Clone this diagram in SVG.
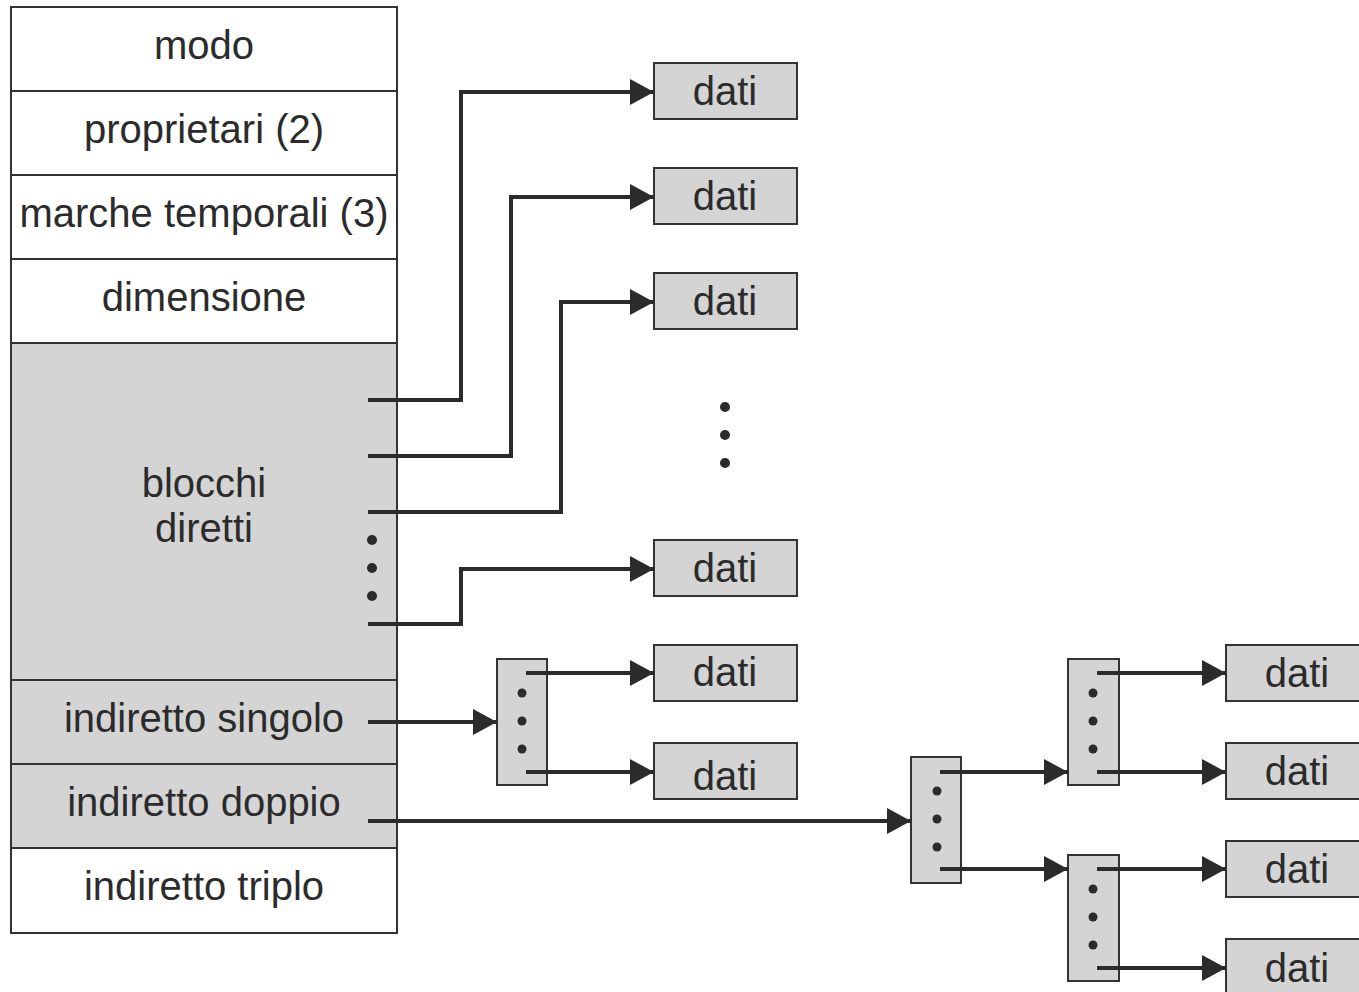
<svg xmlns="http://www.w3.org/2000/svg" width="1359" height="992" viewBox="0 0 1359 992">
  <style>
    .cell { stroke: #333; stroke-width: 2; }
    .white { fill: #ffffff; }
    .grey { fill: #d4d4d4; }
    .lbl { font-family: "Liberation Sans", Arial, Helvetica, sans-serif; font-size: 40px; fill: #2b2b2b; text-anchor: middle; }
    .blk { fill: #d4d4d4; stroke: #333; stroke-width: 2; }
    .dot { fill: #2b2b2b; }
    .arrow { fill: none; stroke: #2b2b2b; stroke-width: 4; marker-end: url(#ah); }
  </style>
  <defs>
    <marker id="ah" markerUnits="userSpaceOnUse" markerWidth="24" markerHeight="26" refX="24" refY="13" orient="auto">
      <path d="M0,0 L24,13 L0,26 z" fill="#2b2b2b"/>
    </marker>
  </defs>
  <rect width="1359" height="992" fill="#ffffff"/>

  <!-- inode table -->
  <g id="inode">
    <g id="modo"><rect class="cell white" x="11" y="7" width="386" height="84"/><text class="lbl" x="204" y="59">modo</text></g>
    <g id="proprietari"><rect class="cell white" x="11" y="91" width="386" height="84"/><text class="lbl" x="204" y="143">proprietari (2)</text></g>
    <g id="marche"><rect class="cell white" x="11" y="175" width="386" height="84"/><text class="lbl" x="204" y="227">marche temporali (3)</text></g>
    <g id="dimensione"><rect class="cell white" x="11" y="259" width="386" height="84"/><text class="lbl" x="204" y="311">dimensione</text></g>
    <g id="blocchi-diretti">
      <rect class="cell grey" x="11" y="343" width="386" height="337"/>
      <text class="lbl" x="204" y="497">blocchi</text>
      <text class="lbl" x="204" y="542">diretti</text>
      <circle class="dot" cx="372" cy="540" r="5"/>
      <circle class="dot" cx="372" cy="568" r="5"/>
      <circle class="dot" cx="372" cy="596" r="5"/>
    </g>
    <g id="indiretto-singolo"><rect class="cell grey" x="11" y="680" width="386" height="84"/><text class="lbl" x="204" y="732">indiretto singolo</text></g>
    <g id="indiretto-doppio"><rect class="cell grey" x="11" y="764" width="386" height="84"/><text class="lbl" x="204" y="816">indiretto doppio</text></g>
    <g id="indiretto-triplo"><rect class="cell white" x="11" y="848" width="386" height="85"/><text class="lbl" x="204" y="900">indiretto triplo</text></g>
  </g>

  <!-- data blocks, direct -->
  <g id="dati-1"><rect class="blk" x="654" y="63" width="143" height="56"/><text class="lbl" x="725" y="105">dati</text></g>
  <g id="dati-2"><rect class="blk" x="654" y="168" width="143" height="56"/><text class="lbl" x="725" y="210">dati</text></g>
  <g id="dati-3"><rect class="blk" x="654" y="273" width="143" height="56"/><text class="lbl" x="725" y="315">dati</text></g>
  <g id="dati-gap">
    <circle class="dot" cx="725" cy="407" r="5"/>
    <circle class="dot" cx="725" cy="435" r="5"/>
    <circle class="dot" cx="725" cy="463" r="5"/>
  </g>
  <g id="dati-4"><rect class="blk" x="654" y="540" width="143" height="56"/><text class="lbl" x="725" y="582">dati</text></g>

  <!-- single indirect -->
  <g id="ind-s">
    <rect class="blk" x="497" y="659" width="50" height="126"/>
    <circle class="dot" cx="522" cy="693" r="4.5"/>
    <circle class="dot" cx="522" cy="721" r="4.5"/>
    <circle class="dot" cx="522" cy="749" r="4.5"/>
  </g>
  <g id="dati-5"><rect class="blk" x="654" y="645" width="143" height="56"/><text class="lbl" x="725" y="686">dati</text></g>
  <g id="dati-6"><rect class="blk" x="654" y="743" width="143" height="56"/><text class="lbl" x="725" y="790">dati</text></g>

  <!-- double indirect -->
  <g id="ind-d">
    <rect class="blk" x="911" y="757" width="50" height="126"/>
    <circle class="dot" cx="937" cy="791" r="4.5"/>
    <circle class="dot" cx="937" cy="819" r="4.5"/>
    <circle class="dot" cx="937" cy="847" r="4.5"/>
  </g>
  <g id="ind-d-a">
    <rect class="blk" x="1068" y="659" width="51" height="126"/>
    <circle class="dot" cx="1093" cy="693" r="4.5"/>
    <circle class="dot" cx="1093" cy="721" r="4.5"/>
    <circle class="dot" cx="1093" cy="749" r="4.5"/>
  </g>
  <g id="ind-d-b">
    <rect class="blk" x="1068" y="855" width="51" height="126"/>
    <circle class="dot" cx="1093" cy="889" r="4.5"/>
    <circle class="dot" cx="1093" cy="917" r="4.5"/>
    <circle class="dot" cx="1093" cy="945" r="4.5"/>
  </g>
  <g id="dati-7"><rect class="blk" x="1226" y="645" width="143" height="56"/><text class="lbl" x="1297" y="687">dati</text></g>
  <g id="dati-8"><rect class="blk" x="1226" y="743" width="143" height="56"/><text class="lbl" x="1297" y="785">dati</text></g>
  <g id="dati-9"><rect class="blk" x="1226" y="841" width="143" height="56"/><text class="lbl" x="1297" y="883">dati</text></g>
  <g id="dati-10"><rect class="blk" x="1226" y="939" width="143" height="56"/><text class="lbl" x="1297" y="982">dati</text></g>

  <!-- connectors -->
  <g id="connectors">
    <path class="arrow" d="M368,400 H461 V92 H654"/>
    <path class="arrow" d="M368,456 H511 V197 H654"/>
    <path class="arrow" d="M368,512 H561 V302 H654"/>
    <path class="arrow" d="M368,624 H461 V569 H654"/>
    <path class="arrow" d="M368,722 H497"/>
    <path class="arrow" d="M526,673 H654"/>
    <path class="arrow" d="M526,772 H654"/>
    <path class="arrow" d="M368,821 H911"/>
    <path class="arrow" d="M940,772 H1068"/>
    <path class="arrow" d="M940,869 H1068"/>
    <path class="arrow" d="M1097,673 H1226"/>
    <path class="arrow" d="M1097,772 H1226"/>
    <path class="arrow" d="M1097,869 H1226"/>
    <path class="arrow" d="M1097,968 H1226"/>
  </g>
</svg>
